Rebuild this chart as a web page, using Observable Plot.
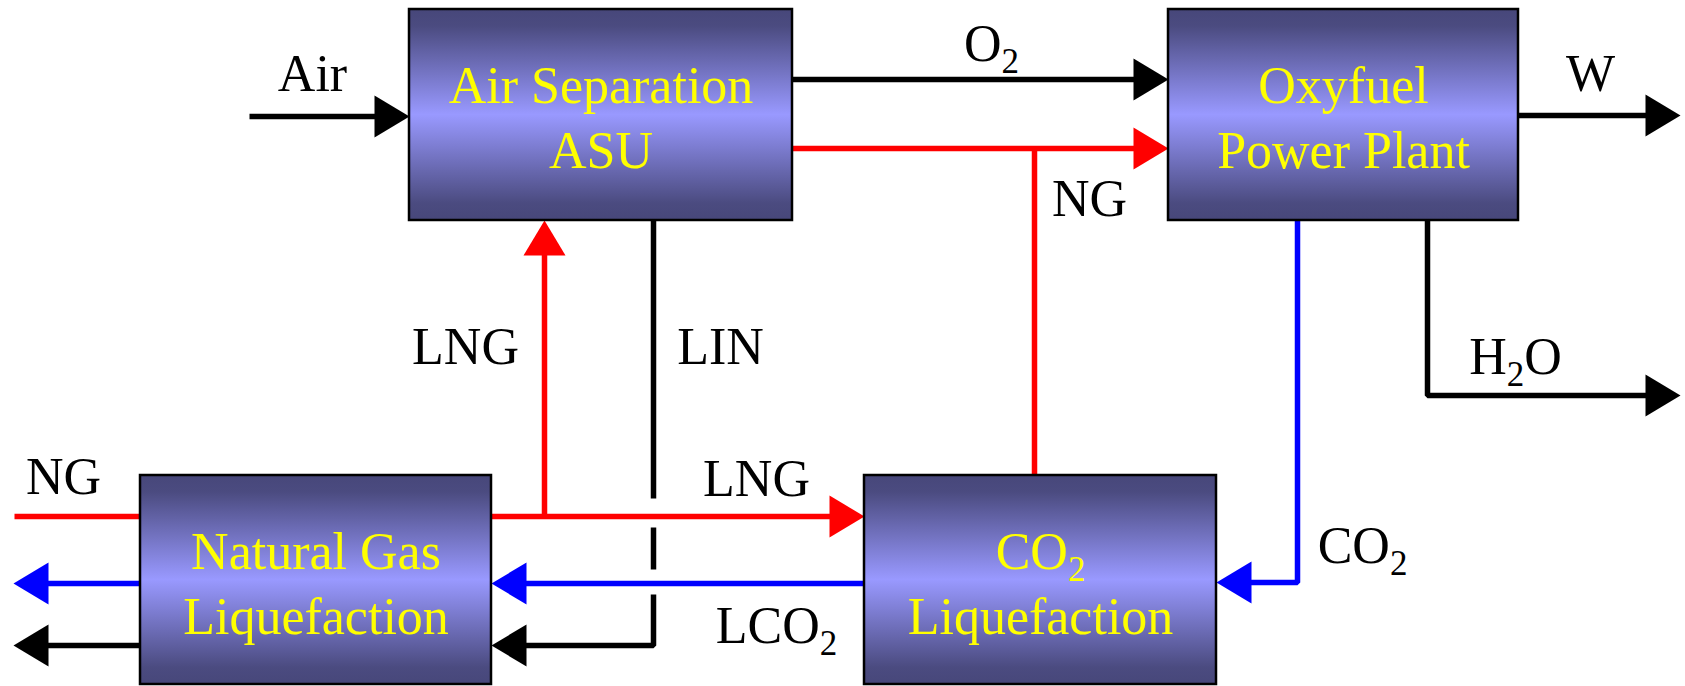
<!DOCTYPE html>
<html>
<head>
<meta charset="utf-8">
<script src="https://cdn.jsdelivr.net/npm/d3@7"></script>
<script src="https://cdn.jsdelivr.net/npm/@observablehq/plot@0.6"></script>
<style>
  html, body { margin: 0; padding: 0; background: #fff; overflow: hidden; }
  svg { display: block; }
</style>
</head>
<body>
<div id="chart"></div>
<script>
// ---- Process units (boxes) ----
const units = [
  {name: "ASU",     x1: 409,  x2: 792,  y1: 9,   y2: 220},
  {name: "Oxyfuel", x1: 1168, x2: 1518, y1: 9,   y2: 220},
  {name: "NGL",     x1: 140,  x2: 491,  y1: 475, y2: 684},
  {name: "CO2L",    x1: 864,  x2: 1216, y1: 475, y2: 684}
];
const unitTitles = [
  ["Air Separation", "ASU"],
  ["Oxyfuel", "Power Plant"],
  ["Natural Gas", "Liquefaction"],
  ["CO_2", "Liquefaction"]
];

// ---- Streams (polylines, last point = arrow tip when headed) ----
const streams = [
  {id: "air",      color: "black", head: true,  pts: [[249, 116], [409, 116]]},
  {id: "o2",       color: "black", head: true,  pts: [[792, 79], [1168, 79]]},
  {id: "ng-oxy",   color: "red",   head: true,  pts: [[792, 148], [1168, 148]]},
  {id: "ng-riser", color: "red",   head: false, pts: [[1034, 475], [1034, 148]]},
  {id: "w",        color: "black", head: true,  pts: [[1518, 115], [1680, 115]]},
  {id: "h2o",      color: "black", head: true,  pts: [[1427, 220], [1427, 395], [1680, 395]]},
  {id: "co2",      color: "blue",  head: true,  pts: [[1297, 220], [1297, 582], [1216, 582]]},
  {id: "lng-up",   color: "red",   head: true,  pts: [[544, 516], [544, 220]]},
  {id: "lng",      color: "red",   head: true,  pts: [[491, 516], [864, 516]]},
  {id: "ng-in",    color: "red",   head: false, pts: [[14, 516], [140, 516]]},
  {id: "lco2",     color: "blue",  head: true,  pts: [[864, 583], [491, 583]]},
  {id: "co2-out",  color: "blue",  head: true,  pts: [[140, 583], [13, 583]]},
  {id: "lin-out",  color: "black", head: true,  pts: [[140, 645], [13, 645]]},
  {id: "lin-a",    color: "black", head: false, pts: [[653, 220], [653, 498]]},
  {id: "lin-b",    color: "black", head: false, pts: [[653, 527], [653, 569]]},
  {id: "lin-c",    color: "black", head: true,  pts: [[653, 594], [653, 645], [491, 645]]}
];

// ---- Stream labels (text, centre x, baseline y) ----
const labelText = ["Air", "O_2", "NG", "W", "H_2O", "CO_2", "LNG", "LIN", "LNG", "LCO_2", "NG"];
const labelX    = [312,   991,   1089, 1590, 1515,  1362,  465,   720,   756,   776,     63];
const labelY    = [90,    60,    215,  90,   373,   562,   363,   363,   495,   642,     493];

// ---- Build tables for the marks ----
const HEAD_LEN = 35, HEAD_HALF = 21;
const lineRows = [];
const headRows = [];
for (const s of streams) {
  const pts = s.pts.map(p => p.slice());
  if (s.head) {
    const n = pts.length;
    const [ax, ay] = pts[n - 2], [bx, by] = pts[n - 1];
    const len = Math.hypot(bx - ax, by - ay);
    const ux = (bx - ax) / len, uy = (by - ay) / len;
    headRows.push({x: bx, y: by, color: s.color, angle: Math.atan2(uy, ux) * 180 / Math.PI + 90});
    pts[n - 1] = [bx - ux * 20, by - uy * 20];
  }
  pts.forEach(([x, y]) => lineRows.push({id: s.id, color: s.color, x, y}));
}
const boxText = [];
units.forEach((u, i) => {
  unitTitles[i].forEach((t, j) => boxText.push({text: t, x: (u.x1 + u.x2) / 2, y: u.y1 + 93 + j * 65}));
});
const labels = labelText.map((t, i) => ({text: t, x: labelX[i], y: labelY[i]}));

// Arrowhead symbol: tip at origin, pointing up
const arrowHead = {
  draw(ctx) {
    ctx.moveTo(0, 0);
    ctx.lineTo(HEAD_HALF, HEAD_LEN);
    ctx.lineTo(-HEAD_HALF, HEAD_LEN);
    ctx.closePath();
  }
};

const W = 1685, H = 686;
const chart = Plot.plot({
  width: W, height: H,
  margin: 0,
  x: {domain: [0, W], range: [0, W], axis: null},
  y: {domain: [0, H], range: [0, H], axis: null},
  color: {type: "identity"},
  style: {background: "white"},
  marks: [
    Plot.line(lineRows, {x: "x", y: "y", z: "id", stroke: "color", strokeWidth: 5.5,
      strokeLinecap: "butt", strokeLinejoin: "miter", curve: "linear"}),
    Plot.dot(headRows, {x: "x", y: "y", fill: "color", stroke: "none", symbol: arrowHead, r: 10, rotate: "angle"}),
    Plot.rect(units, {x1: "x1", x2: "x2", y1: "y1", y2: "y2", fill: "url(#boxGrad)", stroke: "black", strokeWidth: 2.5}),
    Plot.text(boxText, {x: "x", y: "y", text: "text", fill: "#ffff00", fontSize: 52,
      fontFamily: "Liberation Serif, Times New Roman, serif", lineAnchor: "bottom", textAnchor: "middle"}),
    Plot.text(labels, {x: "x", y: "y", text: "text", fill: "black", fontSize: 52,
      fontFamily: "Liberation Serif, Times New Roman, serif", lineAnchor: "bottom", textAnchor: "middle"})
  ]
});

// Gradient definition for the unit boxes
const NS = "http://www.w3.org/2000/svg";
const defs = document.createElementNS(NS, "defs");
const grad = document.createElementNS(NS, "linearGradient");
grad.setAttribute("id", "boxGrad");
grad.setAttribute("x1", "0"); grad.setAttribute("y1", "0");
grad.setAttribute("x2", "0"); grad.setAttribute("y2", "1");
[[0, "#47477a"], [0.08, "#4b4b80"], [0.5, "#9999ff"], [0.92, "#4b4b80"], [1, "#47477a"]].forEach(([o, c]) => {
  const st = document.createElementNS(NS, "stop");
  st.setAttribute("offset", o);
  st.setAttribute("stop-color", c);
  grad.appendChild(st);
});
defs.appendChild(grad);
chart.insertBefore(defs, chart.firstChild);

// Subscripts: "X_2Y" -> X<sub>2</sub>Y
chart.querySelectorAll("text").forEach(t => {
  const s = t.textContent;
  const m = s.match(/^(.*?)_(\d)(.*)$/);
  if (!m) return;
  t.textContent = "";
  const a = document.createElementNS(NS, "tspan"); a.textContent = m[1]; t.appendChild(a);
  const b = document.createElementNS(NS, "tspan"); b.textContent = m[2];
  b.setAttribute("dy", "12"); b.setAttribute("font-size", "35"); t.appendChild(b);
  if (m[3]) {
    const c = document.createElementNS(NS, "tspan"); c.textContent = m[3];
    c.setAttribute("dy", "-12"); t.appendChild(c);
  }
});

document.getElementById("chart").appendChild(chart);
</script>
</body>
</html>
